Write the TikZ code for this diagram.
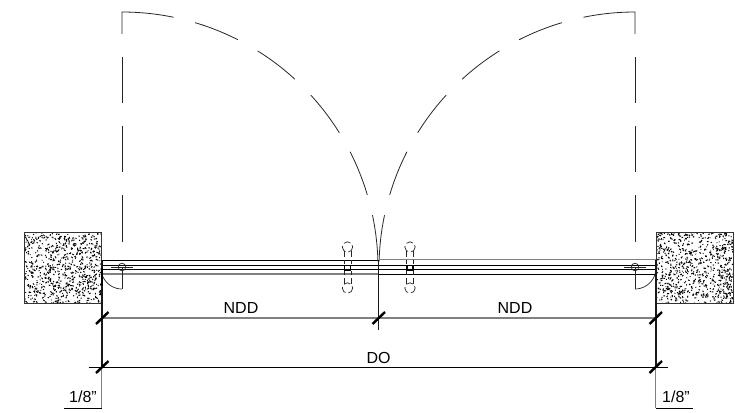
\documentclass[tikz,border=0pt]{standalone}
\usepackage{fontspec}
\setmainfont{Liberation Sans}
\tikzset{
  thinline/.style={line width=0.9pt,black},
  greyline/.style={line width=1.2pt,black!50},
  midline/.style={line width=0.8pt,black!85},
  heavyline/.style={line width=1.9pt,black!90},
  ticker/.style={line width=2.4pt,black},
  label/.style={inner sep=0pt,font=\fontsize{16}{16}\selectfont},
  hardware/.style={line width=0.7pt,black!85},
  knob/.style={line width=0.7pt,black!85,dash pattern=on 7pt off 3pt},
}
\newcommand{\stipple}[4]{%
  \begin{scope}
    \clip (#1,#2) rectangle (#3,#4);
    \foreach \i in {1,...,720}{
      \pgfmathsetmacro{\px}{#1+rnd*(#3-#1)}
      \pgfmathsetmacro{\py}{#2+rnd*(#4-#2)}
      \pgfmathsetmacro{\ang}{rnd*180}
      \pgfmathsetmacro{\len}{0.6+rnd*1.5}
      \draw[line width=1.0pt,black] (\px,\py) -- ++(\ang:\len);
    }
  \end{scope}
  \draw[line width=0.9pt,black!80] (#1,#2) rectangle (#3,#4);
}
\newcommand{\handle}[1]{%
  \draw[knob] (#1,247) circle (5.2);
  \draw[knob] (#1,288) circle (5.2);
  \draw[hardware,dash pattern=on 6pt off 3pt] (#1-3.5,251) -- (#1-3.5,264);
  \draw[hardware,dash pattern=on 6pt off 3pt] (#1+3.5,251) -- (#1+3.5,264);
  \draw[hardware,dash pattern=on 6pt off 3pt] (#1-3.5,284) -- (#1-3.5,271);
  \draw[hardware,dash pattern=on 6pt off 3pt] (#1+3.5,284) -- (#1+3.5,271);
  \draw[line width=1.6pt,black] (#1-3,265.5) rectangle (#1+3,270);
}
\begin{document}
\begin{tikzpicture}[x=1pt,y=-1pt]
\useasboundingbox (0,0) rectangle (735,412);
\pgfmathsetseed{4711}
% walls
\stipple{24}{232}{101.5}{303}
\stipple{656}{232}{733}{303}
% door swing, left leaf
\draw[midline] (122,34) -- (122,12) -- plot[domain=90:78.4,samples=12,variable=\t] ({122+256*cos(\t)},{268-256*sin(\t)});
\foreach \a/\b in {73.4/63.1,58/47.5,42.5/31.9,27/16.6,11.9/1.5}{
  \draw[midline] plot[domain=\a:\b,samples=14,variable=\t] ({122+256*cos(\t)},{268-256*sin(\t)});
}
\foreach \s/\e in {57/103,126/172,195/242}{
  \draw[midline] (122,\s) -- (122,\e);
}
% door swing, right leaf
\draw[midline] (635,34) -- (635,12) -- plot[domain=90:78.4,samples=12,variable=\t] ({635-256*cos(\t)},{268-256*sin(\t)});
\foreach \a/\b in {73.4/63.1,58/47.5,42.5/31.9,27/16.6,11.9/1.5}{
  \draw[midline] plot[domain=\a:\b,samples=14,variable=\t] ({635-256*cos(\t)},{268-256*sin(\t)});
}
\foreach \s/\e in {57/103,126/172,195/242}{
  \draw[midline] (635,\s) -- (635,\e);
}
% frame lines
\draw[thinline] (101,260) -- (378.5,260);
\draw[greyline] (378.5,259.5) -- (656,259.5);
\draw[thinline] (101,265.5) -- (656,265.5);
\draw[thinline] (101,269.5) -- (656,269.5);
\draw[greyline] (101,274) -- (378.5,274);
\draw[thinline] (378.5,274.5) -- (656,274.5);
% hinges
\foreach \x/\c in {122/101,635/656}{
  \draw[hardware] (\x,267) circle (3.8);
  \draw[hardware] (\x-11,267) -- (\x+11,267);
  \draw[hardware] (\x,267) -- (\x,289);
}
\draw[hardware] plot[domain=180:270,samples=14,variable=\t] ({122+21*cos(\t)},{268-21*sin(\t)});
\draw[hardware] plot[domain=270:360,samples=14,variable=\t] ({635+21*cos(\t)},{268-21*sin(\t)});
% handles
\handle{347.5}
\handle{410}
% dimension lines
\draw[greyline] (101,318) -- (656,318);
\draw[thinline] (89,367) -- (668,367);
% extension lines
\draw[heavyline] (101.7,260) -- (101.7,367);
\draw[line width=2.2pt,black] (101.7,268) -- (101.7,286);
\draw[heavyline] (655.8,260) -- (655.8,367);
\draw[heavyline] (378.5,260) -- (378.5,330);
\draw[greyline] (101.7,367) -- (101.7,408);
\draw[greyline] (655.8,367) -- (655.8,408);
\draw[thinline] (64,408) -- (102,408);
\draw[thinline] (655.5,408) -- (693,408);
% ticks
\foreach \x/\y in {102/318,378.5/318,655.5/318,102/367,655.5/367}{
  \draw[ticker] (\x-6,\y+6) -- (\x+6.5,\y-6);
}
% labels
\node[label] (nddl) at (241,308) {NDD};
\node[label] (nddr) at (515,308) {NDD};
\node[label] (dolabel) at (378.5,358) {DO};
\node[label] (gapl) at (83,397) {1/8"};
\node[label] (gapr) at (676,397) {1/8"};
\end{tikzpicture}
\end{document}
